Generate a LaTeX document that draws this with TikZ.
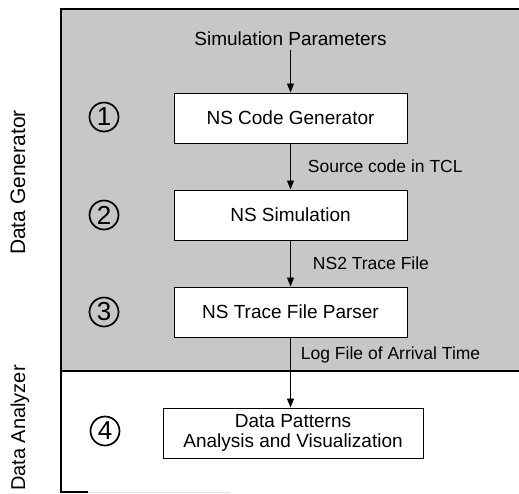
\documentclass[tikz,border=0pt]{standalone}
\usepackage{fontspec}
\setmainfont{Liberation Sans}
\usetikzlibrary{arrows.meta,positioning}

\begin{document}
\begin{tikzpicture}[x=1pt,y=-1pt,
    stage/.style={draw, line width=1pt, fill=white, minimum width=233pt, minimum height=50pt, align=center, font=\fontsize{19}{20}\selectfont},
    flowlbl/.style={anchor=west, inner sep=0pt, font=\fontsize{17.5}{20}\selectfont},
    numcirc/.style={draw, circle, line width=1.7pt, minimum size=29pt, inner sep=0pt, font=\fontsize{26}{26}\selectfont},
    sidelbl/.style={rotate=90, anchor=base, font=\fontsize{21}{24}\selectfont},
    flow/.style={-{Triangle[length=9pt,width=7pt]}, line width=0.9pt}
  ]
  \useasboundingbox (0,0) rectangle (519,493);
  % generator / analyzer areas
  \fill[black!22] (61,9) rectangle (519,371);
  \draw[line width=1.2pt] (519,9) -- (61,9) -- (61,492) -- (88,492);
  \draw[black!12, line width=0.8pt] (88,492) -- (230,492);
  \draw[line width=1.3pt] (61,371) -- (519,371);

  \node[sidelbl] (genlbl) at (25,182.5) {Data Generator};
  \node[sidelbl, font=\fontsize{20}{24}\selectfont] (anllbl) at (25,428) {Data Analyzer};

  \node[numcirc] (n1) at (104,117) {1};
  \node[numcirc] (n2) at (104,215) {2};
  \node[numcirc] (n3) at (104,312) {3};
  \node[numcirc] (n4) at (105,431) {4};

  \node[font=\fontsize{19}{20}\selectfont] (param) at (290.5,39) {Simulation Parameters};
  \node[stage] (gen) at (290.5,118) {NS Code Generator};
  \node[stage] (sim) at (290.5,215) {NS Simulation};
  \node[stage] (parse) at (290.5,312) {NS Trace File Parser};
  \node[stage, minimum width=260pt] (analyze) at (293,433)
    {Data Patterns\\Analysis and Visualization};

  \draw[flow] (param) -- (gen);
  \draw[flow] (gen) -- (sim) node[flowlbl, midway, xshift=17pt] {Source code in TCL};
  \draw[flow] (sim) -- (parse) node[flowlbl, midway, xshift=22pt] {NS2 Trace File};
  \draw[flow] (parse.south) -- (parse.south |- analyze.north)
    node[flowlbl, pos=0.25, xshift=10pt] {Log File of Arrival Time};
\end{tikzpicture}
\end{document}
